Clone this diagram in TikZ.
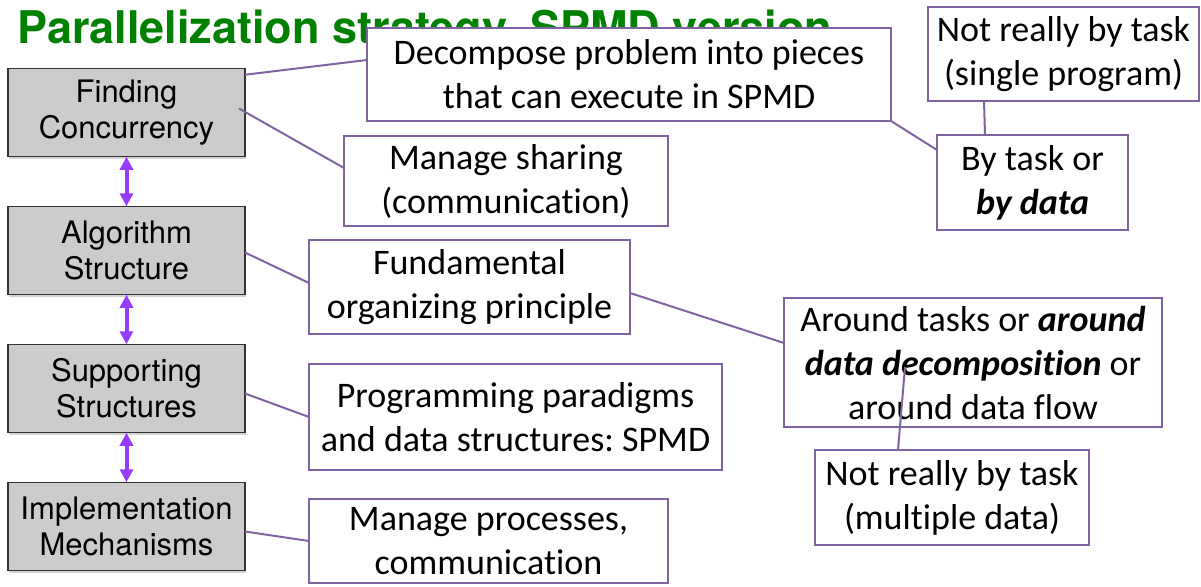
\documentclass[tikz,border=0pt]{standalone}
\usepackage{fontspec}
\setmainfont{Carlito}[Ligatures=NoCommon]
\newfontfamily\helv{TeX Gyre Heros}
\usetikzlibrary{arrows.meta, positioning, shadows}
\frenchspacing

\definecolor{notepurple}{RGB}{128,100,162}
\definecolor{arrowviolet}{RGB}{150,60,255}
\definecolor{titlegreen}{RGB}{0,128,0}
\definecolor{stagegray}{RGB}{204,204,204}

\begin{document}
\begin{tikzpicture}[x=1pt, y=-1pt,
    node distance=49.5pt,
    >={Triangle[width=13pt,length=13pt]},
    stage/.style={draw=black!80, line width=1.2pt, fill=stagegray,
        minimum width=237pt, minimum height=88.5pt, inner sep=0pt, outer sep=0pt,
        align=center, font=\helv\fontsize{31}{36}\selectfont,
        drop shadow={shadow xshift=1pt, shadow yshift=-2pt, opacity=0.35}},
    note/.style={draw=notepurple, line width=2.5pt, fill=white,
        inner sep=0pt, outer sep=0pt, align=center, font=\fontsize{36}{44}\selectfont},
    link/.style={draw=notepurple, line width=2pt},
    updown/.style={<->, draw=arrowviolet, fill=arrowviolet, line width=4pt}]

    \useasboundingbox (0,0) rectangle (1201,586);

    \node[font=\helv\bfseries\fontsize{45}{50}\selectfont, text=titlegreen,
        anchor=base west, inner sep=0pt] (title) at (17,44)
        {Parallelization strategy, SPMD version};

    % design spaces
    \node[stage]              (find) at (126.5,112.5) {Finding\\Concurrency};
    \node[stage, below=of find] (algo) {Algorithm\\Structure};
    \node[stage, below=of algo] (supp) {Supporting\\Structures};
    \node[stage, below=of supp] (impl) {Implementation\\Mechanisms};

    % notes
    \node[note, minimum width=524pt, minimum height=93pt]  (dec)    at (629,74.5)
        {Decompose problem into pieces\\that can execute in SPMD};
    \node[note, minimum width=324pt, minimum height=90pt]  (share)  at (506,181)
        {Manage sharing\\(communication)};
    \node[note, minimum width=321pt, minimum height=94pt]  (fund)   at (469.5,287)
        {Fundamental\\organizing principle};
    \node[note, minimum width=413pt, minimum height=106pt] (prog)   at (515.5,417)
        {Programming paradigms\\and data structures: SPMD};
    \node[note, minimum width=359pt, minimum height=84pt]  (proc)   at (488.5,541)
        {Manage processes,\\communication};
    \node[note, minimum width=271pt, minimum height=94pt]  (single) at (1063.5,54)
        {Not really by task\\(single program)};
    \node[note, minimum width=191pt, minimum height=95pt]  (bytask) at (1032.5,182.5)
        {By task or\\\textbf{\textit{by data}}};
    \node[note, minimum width=378pt, minimum height=129pt] (around) at (973,362.5)
        {Around tasks or \textbf{\textit{around}}\\\textbf{\textit{data decomposition}} or\\around data flow};
    \node[note, minimum width=274pt, minimum height=95pt]  (multi)  at (952,497.5)
        {Not really by task\\(multiple data)};

    \draw[updown] (find) -- (algo);
    \draw[updown] (algo) -- (supp);
    \draw[updown] (supp) -- (impl);

    \draw[link] ([yshift=-6.5pt]find.north east) -- ([yshift=14.5pt]dec.west);
    \draw[link] ([xshift=-6pt,yshift=4pt]find.east) -- ([yshift=13pt]share.west);
    \draw[link] ([yshift=-2pt]algo.east) -- ([yshift=4pt]fund.west);
    \draw[link] ([yshift=-5pt]supp.east) -- (prog.west);
    \draw[link] ([yshift=-5pt]impl.east) -- (proc.west);
    \draw[link] (dec.south east) -- ([yshift=-15pt]bytask.north west);
    \draw[link] ([xshift=56pt]single.south west) -- ([xshift=48pt]bytask.north west);
    \draw[link] ([yshift=-6pt]fund.east) -- ([yshift=19.5pt]around.west);
    \draw[link] ([xshift=83pt]multi.north west) -- ([xshift=-68pt,yshift=-4.5pt]around.center);
\end{tikzpicture}
\end{document}
